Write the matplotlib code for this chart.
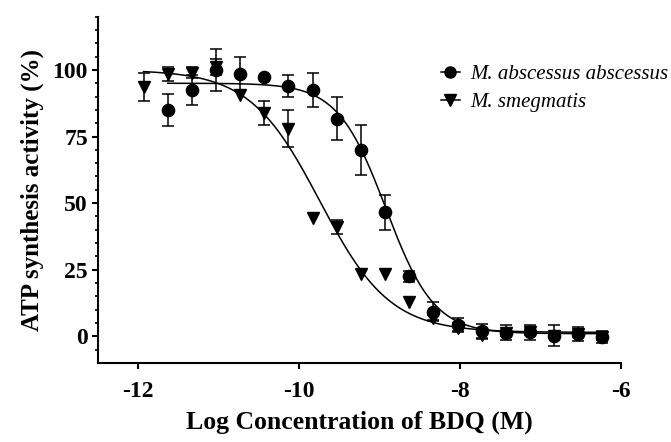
import numpy as np
import matplotlib
matplotlib.use("Agg")
import matplotlib.pyplot as plt
from matplotlib.lines import Line2D

# ---- data (log concentration of BDQ, M) ----
x_abs = [-11.63, -11.33, -11.03, -10.73, -10.43, -10.13, -9.83, -9.53, -9.23,
         -8.93, -8.63, -8.33, -8.03, -7.73, -7.43, -7.13, -6.83, -6.53, -6.23]
y_abs = [85.0, 92.5, 100.0, 98.5, 97.5, 94.0, 92.5, 81.7, 70.0,
         46.5, 22.5, 9.3, 4.2, 1.9, 1.3, 1.6, 0.3, 0.9, -0.2]
e_abs = [6.0, 5.7, 7.8, 6.2, 0.0, 4.2, 6.3, 8.0, 9.4,
         6.5, 2.0, 3.5, 2.6, 2.9, 2.8, 2.8, 3.8, 2.5, 2.4]

x_smeg = [-11.93, -11.63, -11.33, -11.03, -10.73, -10.43, -10.13, -9.83, -9.53, -9.23,
          -8.93, -8.63, -8.33, -8.03, -7.73, -7.43, -7.13, -6.83, -6.53, -6.23]
y_smeg = [93.5, 98.5, 99.0, 101.0, 90.5, 84.0, 78.0, 44.5, 41.0, 23.5,
          23.5, 13.0, 7.0, 3.0, 0.5, 1.3, 1.6, 0.3, 0.9, -0.2]
e_smeg = [5.2, 2.5, 2.0, 3.0, 0.0, 4.5, 7.0, 0.0, 2.5, 0.0,
          0.0, 0.0, 1.0, 1.0, 1.0, 1.0, 1.0, 1.0, 1.0, 1.0]

# four-parameter logistic fit parameters (top, bottom, logIC50, hill)
fit_abs = (95.0, 1.0, -8.92, 1.45)
fit_smeg = (100.0, 1.5, -9.74, 1.0)

labels = ["M. abscessus abscessus", "M. smegmatis"]
xticks = [-12, -10, -8, -6]
yticks = [0, 25, 50, 75, 100]


def logistic(x, p):
    top, bottom, c, h = p
    return bottom + (top - bottom) / (1.0 + 10 ** ((x - c) * h))


def draw_series(ax, x, y, e, marker, z):
    x = np.asarray(x); y = np.asarray(y); e = np.asarray(e)
    has = e > 0
    ax.errorbar(x[has], y[has], yerr=e[has], fmt='none', ecolor='black',
                capsize=4, elinewidth=1.1, capthick=1.1, zorder=z)
    ax.plot(x, y, linestyle='none', marker=marker, color='black', ms=8.8, zorder=z)


plt.rcParams['font.family'] = ['Liberation Serif', 'DejaVu Serif']

fig = plt.figure(figsize=(6.71, 4.42), dpi=100)
ax = fig.add_axes([0.1455, 0.1787, 0.78, 0.7837])

# fitted curves
xs = np.linspace(min(x_smeg), max(x_smeg), 300)
ax.plot(xs, logistic(xs, fit_smeg), color='black', lw=1.1, zorder=2)
xa = np.linspace(min(x_abs), max(x_abs), 300)
ax.plot(xa, logistic(xa, fit_abs), color='black', lw=1.1, zorder=2)

draw_series(ax, x_smeg, y_smeg, e_smeg, 'v', 3)
draw_series(ax, x_abs, y_abs, e_abs, 'o', 4)

ax.set_xlim(-12.5, -6)
ax.set_ylim(-10, 120)
ax.set_xticks(xticks)
ax.set_yticks(yticks)
ax.set_yticks(np.arange(-5, 121, 5), minor=True)
ax.set_xticklabels([str(t) for t in xticks], fontsize=17, fontweight='bold')
ax.set_yticklabels([str(t) for t in yticks], fontsize=17, fontweight='bold')

for s in ['top', 'right']:
    ax.spines[s].set_visible(False)
for s in ['left', 'bottom']:
    ax.spines[s].set_linewidth(1.5)
ax.tick_params(which='major', length=4, width=1.5, pad=3)
ax.tick_params(which='minor', length=2.5, width=1.2)
ax.tick_params(axis='x', which='major', pad=9)

ax.set_xlabel("Log Concentration of BDQ (M)", fontsize=18.5, fontweight='bold', labelpad=6)
ax.set_ylabel("ATP synthesis activity (%)", fontsize=18, fontweight='bold', labelpad=6)

handles = [Line2D([0], [0], color='black', marker='o', ms=8, lw=1.1),
           Line2D([0], [0], color='black', marker='v', ms=8, lw=1.1)]
leg = ax.legend(handles, labels, loc='upper left', bbox_to_anchor=(0.64, 0.885),
                frameon=False, handlelength=0.9, handletextpad=0.5,
                labelspacing=0.38, borderaxespad=0.0,
                prop={'style': 'italic', 'size': 15, 'family': 'Liberation Serif'})

fig.savefig("out.png", dpi=100)
